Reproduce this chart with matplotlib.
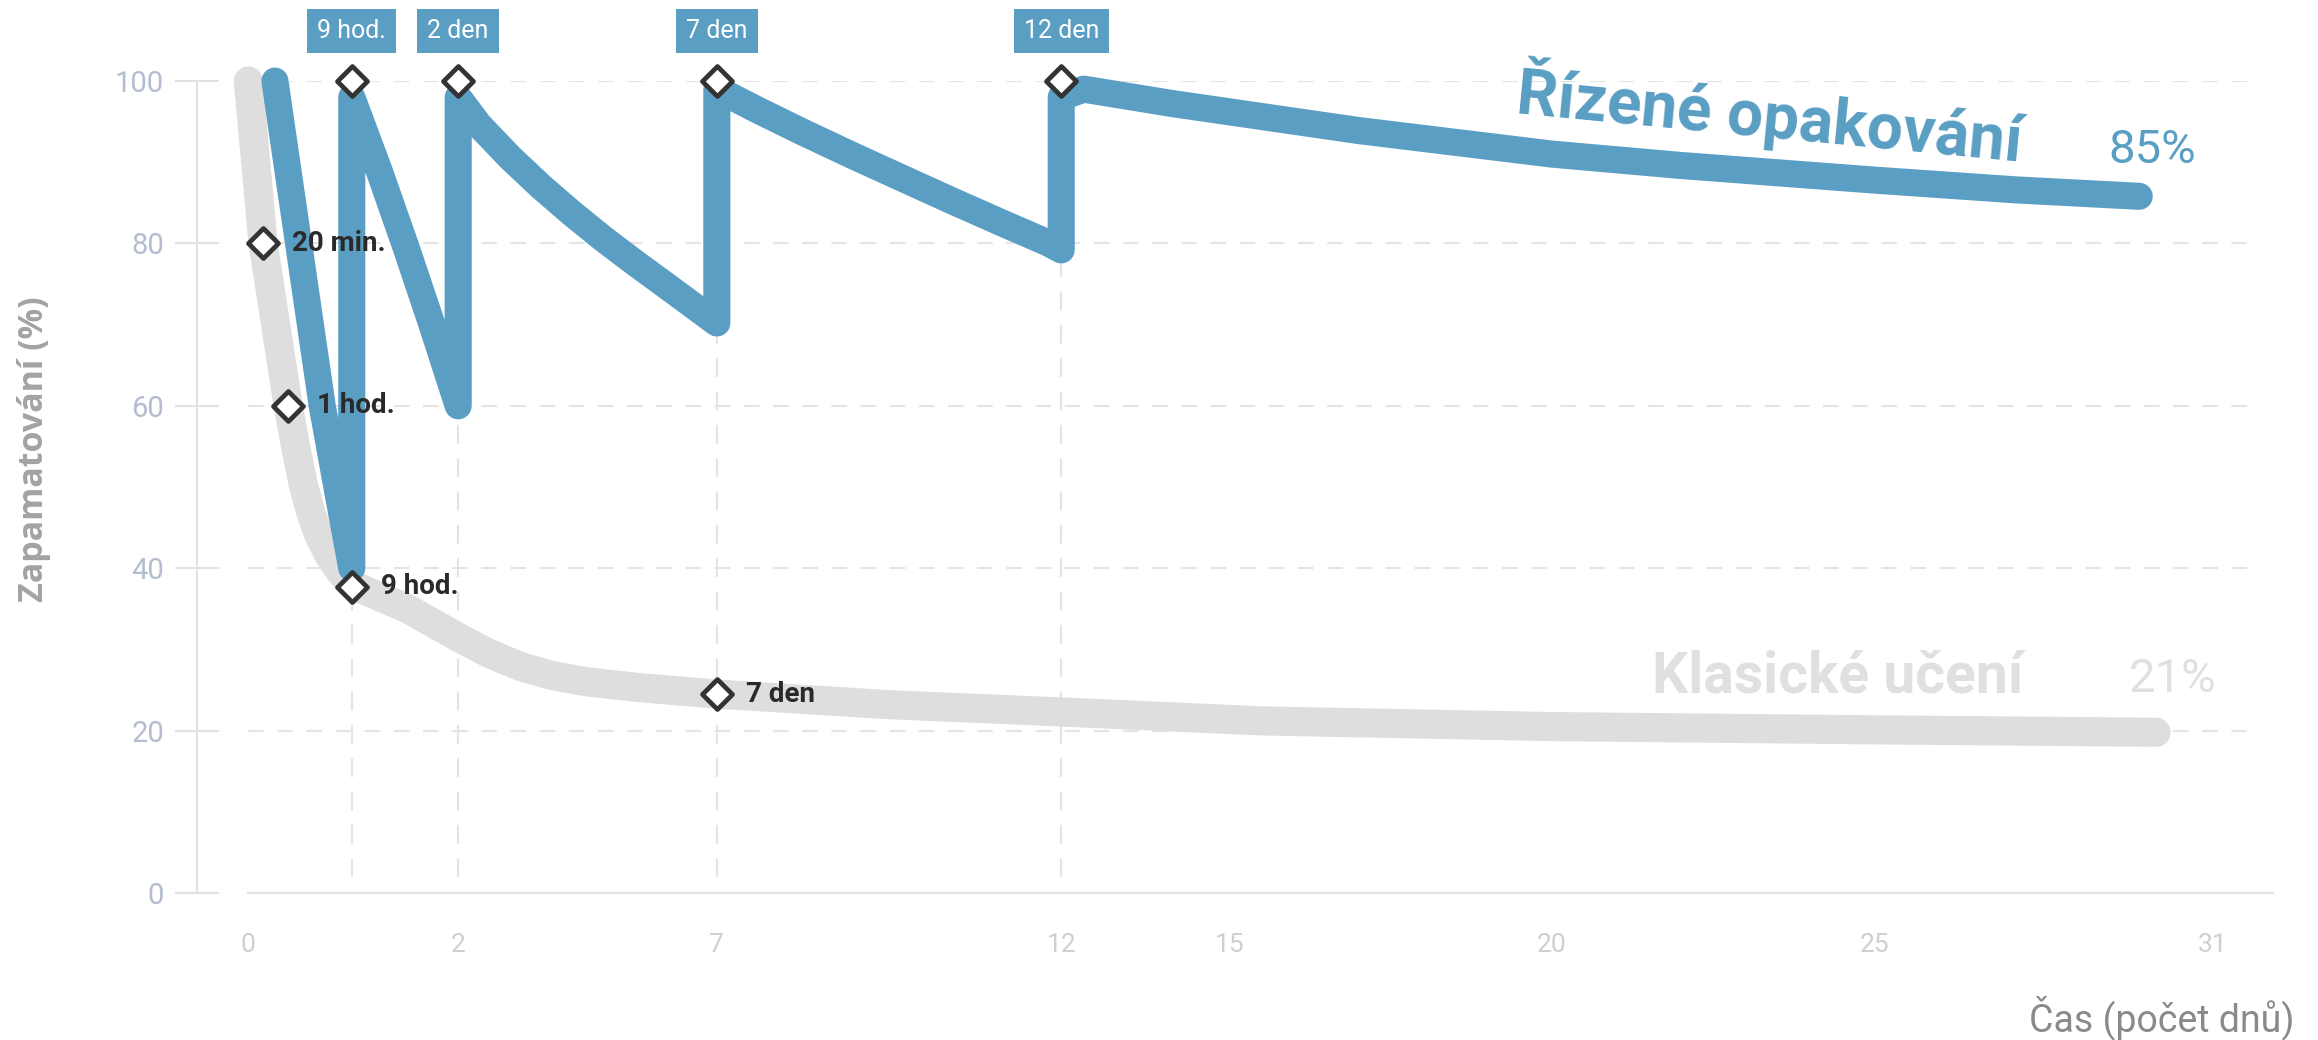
import numpy as np
import matplotlib
matplotlib.use("Agg")
import matplotlib.pyplot as plt
from matplotlib.markers import MarkerStyle

plt.rcParams['font.family'] = ['Roboto', 'DejaVu Sans']

BLUE = '#5a9ec3'
GRAY = '#dedede'
GRID = '#e4e4e4'

# the original stretches the time axis by hand: days -> horizontal position
warp_days = [-1, 0, 20 / 1440, 1 / 24, 9 / 24, 2, 7, 12, 15, 20, 25, 31, 40]
warp_pos = [97, 168, 178, 195, 238, 310, 485, 718, 832, 1050, 1268, 1497, 1841]

tick_days = [0, 2, 7, 12, 15, 20, 25, 31]
y_ticks = [0, 20, 40, 60, 80, 100]

# classic learning (forgetting curve)
classic_days = [0, 0.0139, 0.0417, 0.0805, 0.119, 0.158, 0.204, 0.251, 0.313, 0.375,
                0.6, 1.23, 2.03, 2.6, 3.2, 3.8, 4.5, 5.5, 7, 9.5, 12, 15.5, 20, 25, 30]
classic_vals = [100, 80, 60, 55, 50.5, 47, 44, 41.8, 39.6, 38,
                37.2, 35, 31.4, 29.5, 27.9, 26.8, 26.0, 25.3, 24.5, 23.2, 22.3, 21.2, 20.5, 20.1, 19.8]

# spaced repetition
spaced_days = [0.027, 0.040, 0.096, 0.158, 0.220, 0.297, 0.375,
               0.375, 0.8, 1.2, 1.6, 2.0,
               2.0, 2.4, 3.0, 3.6, 4.2, 4.8, 5.4, 6.0, 7.0,
               7.0, 7.6, 8.2, 8.95, 9.7, 10.4, 11.2, 11.8, 12.0,
               12.0, 12.4, 14.0, 15.0, 17.0, 20.0, 22.0, 25.0, 27.5, 29.7]
spaced_vals = [100, 90, 80, 70, 60, 50, 40,
               98, 88.8, 79.6, 70.0, 60,
               98, 94.6, 90.6, 87.0, 83.7, 80.6, 77.7, 74.9, 70.2,
               99, 96.4, 93.9, 90.9, 88.0, 85.3, 82.3, 80.1, 79.2,
               98, 99, 97.2, 96.2, 93.9, 91.0, 89.6, 87.8, 86.6, 85.8]

review_days = [9 / 24, 2, 7, 12]
review_labels = ['9 hod.', '2 den', '7 den', '12 den']

point_days = [20 / 1440, 1 / 24, 9 / 24, 7]
point_vals = [80, 60, 37.7, 24.5]
point_labels = ['20 min.', '1 hod.', '9 hod.', '7 den']

fig = plt.figure(figsize=(23.18, 10.40), dpi=100)
ax = fig.add_axes([0.0848, 0.1413, 0.8958, 0.7808])
ax.set_xscale('function', functions=(lambda d: np.interp(d, warp_days, warp_pos),
                                     lambda p: np.interp(p, warp_pos, warp_days)))
ax.set_xlim(-0.493, 32.07)
ax.set_ylim(0, 100)

# dashed guides
ax.hlines(y_ticks[1:], 0, 31.84, colors=GRID, lw=1.5, linestyles=[(0, (7.5, 6.5))], zorder=1)
ax.vlines(review_days, 2, 100, colors=GRID, lw=1.5, linestyles=[(0, (9, 7))], zorder=1)

ax.plot(classic_days, classic_vals, color=GRAY, lw=21, solid_capstyle='round',
        solid_joinstyle='round', clip_on=False, zorder=2)
ax.plot(spaced_days, spaced_vals, color=BLUE, lw=19.5, solid_capstyle='round',
        solid_joinstyle='round', clip_on=False, zorder=3)

diamond = MarkerStyle('D', joinstyle='round')
mk = dict(ls='none', marker=diamond, ms=15, mfc='white', mec='#333333', mew=3.4,
          clip_on=False, zorder=5)
ax.plot(review_days, [100] * len(review_days), **mk)
ax.plot(point_days, point_vals, **mk)

for d, t in zip(review_days, review_labels):
    ax.text(d, 106.1, t, ha='center', va='center', color='white', fontsize=18,
            bbox=dict(boxstyle='square,pad=0.4', fc=BLUE, ec='none'),
            clip_on=False, zorder=6)

for d, v, t in zip(point_days, point_vals, point_labels):
    ax.annotate(t, (d, v), xytext=(21, 0), textcoords='offset points', ha='left',
                va='center', fontsize=20, fontweight='bold', color='#2a2a2a', zorder=6)

ax.text(23.39, 95.9, 'Řízené opakování', rotation=-5.5, rotation_mode='anchor',
        ha='center', va='center', fontsize=46, fontweight='bold', color=BLUE, zorder=6)
ax.text(29.93, 91.5, '85%', ha='center', va='center', fontsize=34, color=BLUE, zorder=6)
ax.text(24.43, 26.6, 'Klasické učení', ha='center', va='center', fontsize=41,
        fontweight='bold', color='#e0e0e0', zorder=6)
ax.text(30.29, 26.4, '21%', ha='center', va='center', fontsize=34, color='#e0e0e0', zorder=6)

ax.set_xticks(tick_days, [str(t) for t in tick_days])
ax.set_yticks(y_ticks)
ax.tick_params(axis='x', length=0, pad=29, labelsize=19, labelcolor='#cfcfcf')
ax.tick_params(axis='y', direction='inout', length=31, width=1.5, color='#e2e2e2',
               pad=8, labelsize=21, labelcolor='#b3bdcf')
ax.minorticks_off()

for s in ['top', 'right']:
    ax.spines[s].set_visible(False)
ax.spines['left'].set_color('#e3e3e3')
ax.spines['left'].set_linewidth(1.5)
ax.spines['left'].set_bounds(0, 100)
ax.spines['bottom'].set_color('#e3e3e3')
ax.spines['bottom'].set_linewidth(1.5)
ax.spines['bottom'].set_bounds(0, 32.07)

fig.text(0.0147, 0.568, 'Zapamatování (%)', rotation=90, ha='center', va='center',
         fontsize=24.5, fontweight='bold', color='#a3a3a3', family=['Open Sans', 'DejaVu Sans'])
fig.text(0.9897, 0.022, 'Čas (počet dnů)', ha='right', va='center', fontsize=27,
         color='#8a8a8a')

fig.savefig('out.png', dpi=100)
